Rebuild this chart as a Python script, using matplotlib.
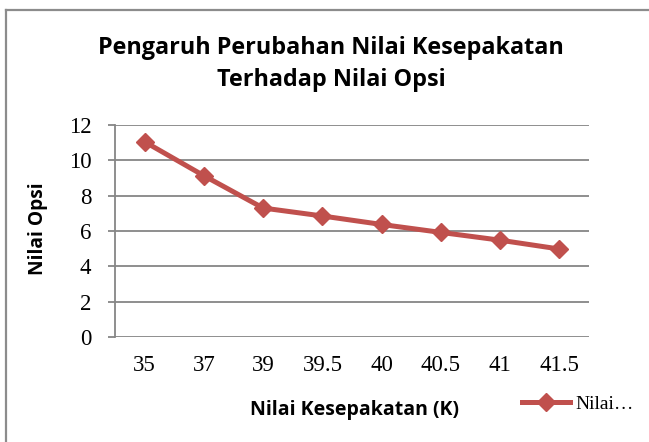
import matplotlib
matplotlib.use("Agg")
import matplotlib.pyplot as plt
from matplotlib.lines import Line2D

categories = ["35", "37", "39", "39.5", "40", "40.5", "41", "41.5"]
nilai_opsi = [11.05, 9.13, 7.3, 6.85, 6.37, 5.92, 5.48, 4.98]
yticks = [0, 2, 4, 6, 8, 10, 12]

grey = "#868686"
red = "#C0504D"
title_font = "Open Sans"
tick_font = "Liberation Serif"

fig = plt.figure(figsize=(6.49, 4.42), dpi=100)
ax = fig.add_axes([115 / 649, 105 / 442, 474 / 649, 212 / 442])

x = list(range(len(categories)))
line, = ax.plot(x, nilai_opsi, color=red, lw=3.6, marker="D", markersize=9,
                label="Nilai…")

ax.set_xlim(-0.5, len(categories) - 0.5)
ax.set_ylim(0, 12)
ax.set_yticks(yticks)
ax.set_xticks(x)
ax.set_xticklabels(categories)
ax.grid(axis="y", color=grey, lw=1.3)
ax.set_axisbelow(True)
for s in ["top", "right", "bottom"]:
    ax.spines[s].set_visible(False)
ax.spines["left"].set_color(grey)
ax.spines["left"].set_linewidth(1.3)
ax.tick_params(axis="y", direction="out", length=5, color=grey, width=1.3, pad=12)
ax.tick_params(axis="x", length=0, pad=13)
for lab in ax.get_xticklabels() + ax.get_yticklabels():
    lab.set_fontfamily(tick_font)
    lab.set_fontsize(16.5)

fig.text(0.51, 1 - 64 / 442, "Pengaruh Perubahan Nilai Kesepakatan\nTerhadap Nilai Opsi",
         ha="center", va="center", fontsize=16.8, fontweight="bold",
         family=title_font, linespacing=1.5)
fig.text(38 / 649, 1 - 229 / 442, "Nilai Opsi", rotation=90, ha="center", va="center",
         fontsize=13.8, fontweight="bold", family=title_font)
fig.text(354 / 649, 1 - 410 / 442, "Nilai Kesepakatan (K)", ha="center",
         va="center", fontsize=14, fontweight="bold", family=title_font)

leg = fig.legend(handles=[line], loc="center left",
                 bbox_to_anchor=(504 / 649, 1 - 404 / 442), frameon=False,
                 prop={"family": tick_font, "size": 14}, handlelength=2.5,
                 handletextpad=0.25)

# chart border
fig.add_artist(Line2D([6 / 649, 6 / 649], [0, 1 - 10 / 442], color="#8c8c8c",
                      lw=1.6, transform=fig.transFigure))
fig.add_artist(Line2D([6 / 649, 1], [1 - 10 / 442, 1 - 10 / 442], color="#8c8c8c",
                      lw=1.6, transform=fig.transFigure))

fig.savefig("out.png", dpi=100)
